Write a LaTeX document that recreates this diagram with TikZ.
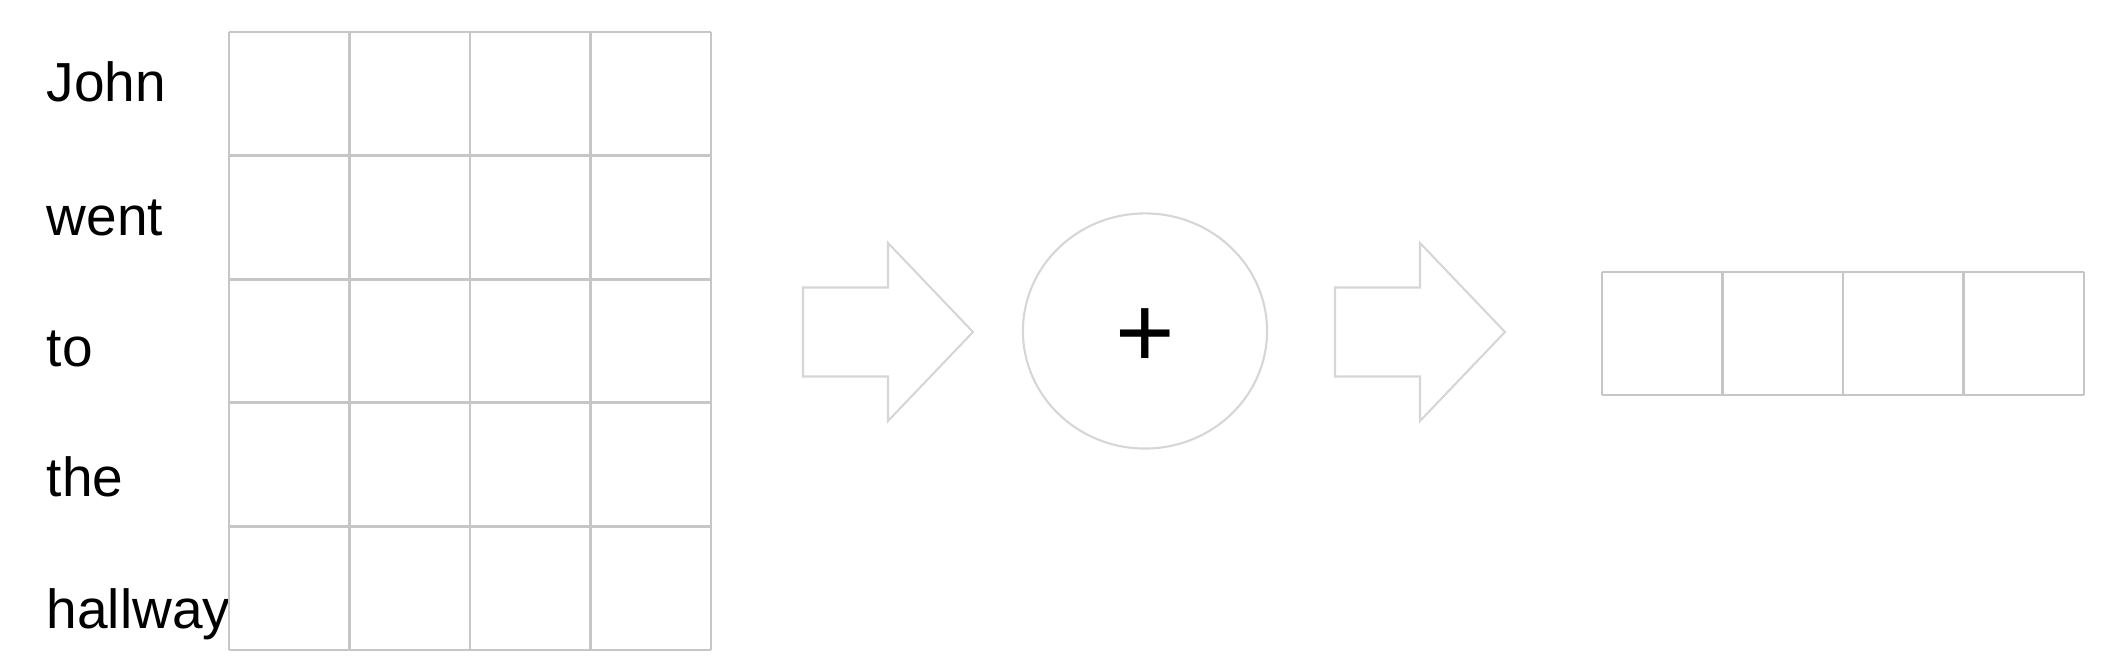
\documentclass[tikz,border=0pt]{standalone}
\usepackage{fontspec}
\setmainfont{Liberation Sans}
\usetikzlibrary{shapes.geometric}

\definecolor{gridgray}{RGB}{198,198,198}
\definecolor{shapegray}{RGB}{214,214,214}

\begin{document}
\begin{tikzpicture}[x=0.01cm, y=-0.01cm,
    word/.style={anchor=base west, inner sep=0pt, font=\fontsize{15.65}{18}\selectfont},
    cellline/.style={draw=gridgray, line width=0.75pt},
    blockarrow/.style={draw=shapegray, line width=0.6pt, line join=miter}]

    \useasboundingbox (0,0) rectangle (2114,662);

    % words (one per row of the matrix)
    \node[word] (john) at (46,102) {John};
    \node[word] (went) at (46,236) {went};
    \node[word] (to) at (46,367) {to};
    \node[word] (the) at (46,497) {the};
    \node[word] (hallway) at (46,629) {hallway};

    % word embedding matrix, 5 x 4
    \foreach \i in {0,...,5}
        \draw[cellline] (229,{32+123.6*\i}) -- (711,{32+123.6*\i});
    \foreach \j in {0,...,4}
        \draw[cellline] ({229+120.5*\j},32) -- ({229+120.5*\j},650);

    % block arrows
    \coordinate (arrowin) at (803,332);
    \coordinate (arrowout) at (1335,332);
    \draw[blockarrow] (arrowin) ++(0,-44.5) -- ++(85,0) -- ++(0,-44.5) -- ++(85,89)
        -- ++(-85,89) -- ++(0,-44.5) -- ++(-85,0) -- cycle; % matrix -> sum
    \draw[blockarrow] (arrowout) ++(0,-44.5) -- ++(85,0) -- ++(0,-44.5) -- ++(85,89)
        -- ++(-85,89) -- ++(0,-44.5) -- ++(-85,0) -- cycle; % sum -> vector

    % sum over the rows
    \node[ellipse, draw=shapegray, line width=0.6pt, minimum width=2.44cm,
          minimum height=2.35cm, inner sep=0pt] (sum) at (1145,331) {};
    \node[anchor=base, inner sep=0pt, font=\fontsize{29}{30}\selectfont] (plus) at (1145,368) {+};

    % sentence vector, 1 x 4
    \foreach \i in {272,395}
        \draw[cellline] (1602,\i) -- (2084,\i);
    \foreach \j in {0,...,4}
        \draw[cellline] ({1602+120.5*\j},272) -- ({1602+120.5*\j},395);

\end{tikzpicture}
\end{document}
